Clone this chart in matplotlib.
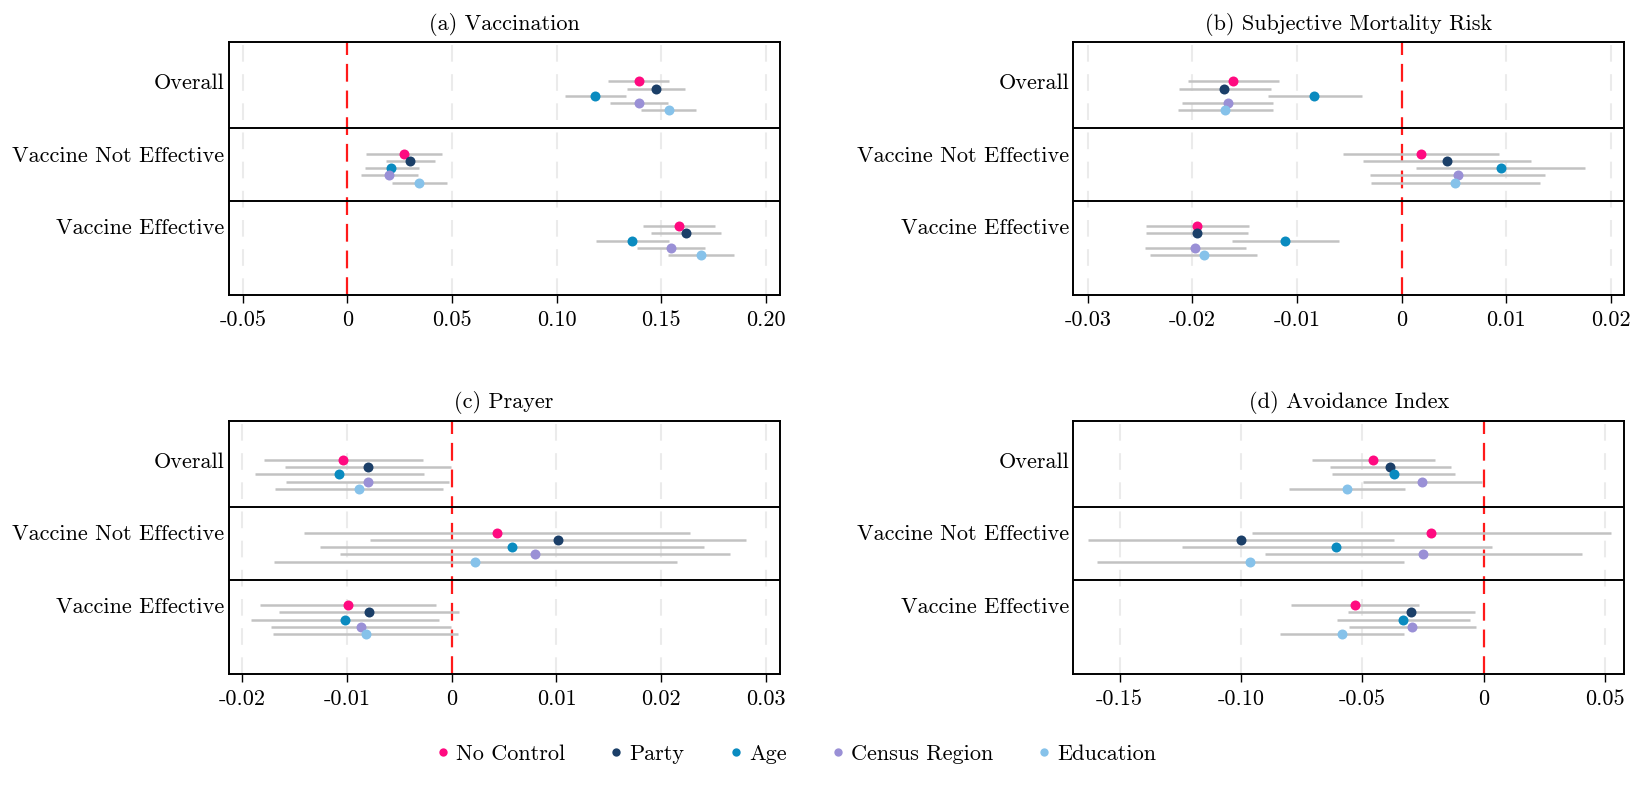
import numpy as np
import matplotlib
matplotlib.use("Agg")
import matplotlib.pyplot as plt
from matplotlib.lines import Line2D

plt.rcParams['font.family'] = ['cmr10', 'DejaVu Serif']
plt.rcParams['axes.formatter.use_mathtext'] = True

groups = ['Overall', 'Vaccine Not Effective', 'Vaccine Effective']
models = ['No Control', 'Party', 'Age', 'Census Region', 'Education']
colors = ['#ff0a80', '#1b3f68', '#0a8bc0', '#9a90d6', '#86c2ea']

titles = ['(a) Vaccination', '(b) Subjective Mortality Risk',
          '(c) Prayer', '(d) Avoidance Index']

# point estimates, rows = groups, cols = models
vacc_est = [[0.1391, 0.1473, 0.1184, 0.1393, 0.1535],
            [0.0269, 0.0300, 0.0210, 0.0199, 0.0344],
            [0.1584, 0.1619, 0.1361, 0.1544, 0.1690]]
vacc_lo = [[0.1246, 0.1334, 0.1038, 0.1254, 0.1404],
           [0.0088, 0.0185, 0.0084, 0.0066, 0.0214],
           [0.1413, 0.1451, 0.1190, 0.1385, 0.1533]]
vacc_hi = [[0.1535, 0.1614, 0.1329, 0.1530, 0.1667],
           [0.0450, 0.0417, 0.0340, 0.0336, 0.0475],
           [0.1758, 0.1787, 0.1535, 0.1707, 0.1849]]

mort_est = [[-0.01614, -0.01696, -0.00834, -0.01661, -0.01689],
            [0.00182, 0.00431, 0.00948, 0.00535, 0.00513],
            [-0.01953, -0.01957, -0.01112, -0.01974, -0.01892]]
mort_lo = [[-0.02046, -0.02128, -0.01283, -0.02096, -0.02142],
           [-0.00563, -0.00367, 0.00139, -0.00299, -0.00296],
           [-0.02448, -0.02445, -0.01618, -0.02452, -0.02402]]
mort_hi = [[-0.01176, -0.01254, -0.00381, -0.01229, -0.01229],
           [0.00927, 0.01233, 0.01753, 0.01369, 0.01322],
           [-0.01458, -0.01465, -0.00599, -0.01493, -0.01379]]

pray_est = [[-0.01037, -0.00804, -0.01074, -0.00804, -0.00884],
            [0.00431, 0.01012, 0.00577, 0.00796, 0.00226],
            [-0.00990, -0.00789, -0.01023, -0.00869, -0.00822]]
pray_lo = [[-0.01790, -0.01592, -0.01874, -0.01581, -0.01684],
           [-0.01406, -0.00782, -0.01256, -0.01066, -0.01695],
           [-0.01830, -0.01651, -0.01917, -0.01728, -0.01702]]
pray_hi = [[-0.00278, -0.00007, -0.00267, -0.00022, -0.00080],
           [0.02272, 0.02809, 0.02410, 0.02659, 0.02151],
           [-0.00146, 0.00069, -0.00124, -0.00011, 0.00058]]

avoid_est = [[-0.04547, -0.03856, -0.03717, -0.02550, -0.05637],
             [-0.02166, -0.10015, -0.06068, -0.02488, -0.09616],
             [-0.05315, -0.02980, -0.03318, -0.02949, -0.05837]]
avoid_lo = [[-0.07081, -0.06344, -0.06252, -0.04992, -0.08018],
            [-0.09539, -0.16313, -0.12427, -0.09002, -0.15914],
            [-0.07942, -0.05591, -0.06037, -0.05561, -0.08403]]
avoid_hi = [[-0.01997, -0.01352, -0.01183, -0.00092, -0.03226],
            [0.05223, -0.03717, 0.00323, 0.04025, -0.03303],
            [-0.02673, -0.00369, -0.00584, -0.00338, -0.03303]]

xticks = [[-0.05, 0, 0.05, 0.10, 0.15, 0.20],
          [-0.03, -0.02, -0.01, 0, 0.01, 0.02],
          [-0.02, -0.01, 0, 0.01, 0.02, 0.03],
          [-0.15, -0.10, -0.05, 0, 0.05]]
xticklabels = [['-0.05', '0', '0.05', '0.10', '0.15', '0.20'],
               ['-0.03', '-0.02', '-0.01', '0', '0.01', '0.02'],
               ['-0.02', '-0.01', '0', '0.01', '0.02', '0.03'],
               ['-0.15', '-0.10', '-0.05', '0', '0.05']]
xlims = [(-0.0567, 0.2065), (-0.03138, 0.02127),
         (-0.02129, 0.0313), (-0.169, 0.0579)]

panels = [(vacc_est, vacc_lo, vacc_hi), (mort_est, mort_lo, mort_hi),
          (pray_est, pray_lo, pray_hi), (avoid_est, avoid_lo, avoid_hi)]

fig = plt.figure(figsize=(16.35, 7.94), dpi=100)
rects = [[0.1399, 0.6285, 0.3369, 0.3183], [0.6565, 0.6285, 0.3370, 0.3183],
         [0.1399, 0.1511, 0.3369, 0.3190], [0.6565, 0.1511, 0.3370, 0.3190]]

fs = 16
step = 0.1
for i, (est, lo, hi) in enumerate(panels):
    ax = fig.add_axes(rects[i])
    est = np.array(est); lo = np.array(lo); hi = np.array(hi)
    for t in xticks[i]:
        if t != 0:
            ax.axvline(t, color='#ebebeb', lw=1.5, dashes=(8, 6), zorder=0)
    ax.axvline(0, color='#ff1a1a', lw=1.6, dashes=(8, 4), zorder=1)
    for g in range(len(groups)):
        for m in range(len(models)):
            y = g + m * step
            ax.plot([lo[g, m], hi[g, m]], [y, y], color='#c2c2c2', lw=1.8,
                    solid_capstyle='butt', zorder=2)
            ax.plot(est[g, m], y, 'o', color=colors[m], ms=7.2, mew=0, zorder=3)
    for d in [0.65, 1.65]:
        ax.axhline(d, color='black', lw=1.4, zorder=4)
    ax.set_ylim(2.95, -0.54)
    ax.set_xlim(*xlims[i])
    ax.set_yticks(range(len(groups)))
    ax.set_yticklabels(groups, fontsize=fs)
    ax.set_xticks(xticks[i])
    ax.set_xticklabels(xticklabels[i], fontsize=fs)
    ax.tick_params(axis='y', length=0, pad=3)
    ax.tick_params(axis='x', length=6, width=1, pad=5)
    for s in ax.spines.values():
        s.set_linewidth(1.4)
    ax.set_title(titles[i], fontsize=fs, pad=9)

handles = [Line2D([], [], ls='', marker='o', color=c, ms=6, mew=0) for c in colors]
fig.legend(handles, models, loc='center', bbox_to_anchor=(0.487, 0.05),
           ncol=5, frameon=False, fontsize=fs, handletextpad=0.3,
           columnspacing=2.0, handlelength=0.6)

fig.savefig('out.png', dpi=100)
